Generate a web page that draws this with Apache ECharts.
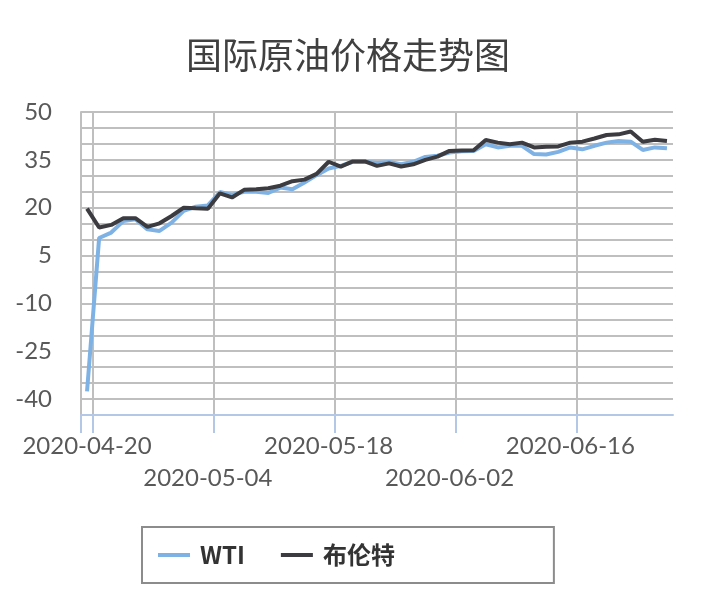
<!DOCTYPE html>
<html>
<head>
<meta charset="UTF-8">
<title>国际原油价格走势图</title>
<script src="https://cdn.jsdelivr.net/npm/echarts@6/dist/echarts.min.js"></script>
<style>
  html, body { margin: 0; padding: 0; background: #fff; }
</style>
</head>
<body>
<div id="main" style="width: 711px; height: 601px;"></div>
<script type="text/javascript">
// 交易日（5月25日休市）
var dates = [
  '2020-04-20', '2020-04-21', '2020-04-22', '2020-04-23', '2020-04-24',
  '2020-04-27', '2020-04-28', '2020-04-29', '2020-04-30', '2020-05-01',
  '2020-05-04', '2020-05-05', '2020-05-06', '2020-05-07', '2020-05-08',
  '2020-05-11', '2020-05-12', '2020-05-13', '2020-05-14', '2020-05-15',
  '2020-05-18', '2020-05-19', '2020-05-20', '2020-05-21', '2020-05-22',
  '2020-05-26', '2020-05-27', '2020-05-28', '2020-05-29',
  '2020-06-01', '2020-06-02', '2020-06-03', '2020-06-04', '2020-06-05',
  '2020-06-08', '2020-06-09', '2020-06-10', '2020-06-11', '2020-06-12',
  '2020-06-15', '2020-06-16', '2020-06-17', '2020-06-18', '2020-06-19',
  '2020-06-22', '2020-06-23', '2020-06-24', '2020-06-25', '2020-06-26'
];

var wti = [
  -37.6, 10.5, 12.2, 15.8, 16.4, 13.2, 12.7, 15.3, 19.0, 20.3,
  20.7, 24.9, 24.0, 25.0, 25.0, 24.6, 26.3, 25.8, 27.9, 30.2,
  32.3, 33.1, 34.4, 34.4, 34.0, 34.3, 33.6, 34.4, 35.9, 36.3,
  37.3, 37.7, 37.8, 39.9, 38.9, 39.4, 39.4, 36.8, 36.7, 37.5,
  38.9, 38.3, 39.4, 40.4, 40.9, 40.7, 38.1, 38.9, 38.6
];

var brent = [
  19.7, 13.8, 14.6, 16.7, 16.7, 14.0, 15.1, 17.4, 20.0, 19.8,
  19.7, 24.5, 23.2, 25.6, 25.8, 26.1, 26.9, 28.3, 28.8, 30.6,
  34.4, 32.9, 34.5, 34.5, 33.1, 33.9, 32.9, 33.6, 35.0, 36.0,
  37.8, 37.9, 38.0, 41.2, 40.4, 39.9, 40.4, 38.9, 39.1, 39.2,
  40.4, 40.7, 41.7, 42.8, 43.0, 43.9, 40.7, 41.3, 40.9
];

// 纵轴：网格每5一格，刻度标签每15一个
var yMin = -45, yMax = 50, yStep = 5, yLabelStep = 15;
// 横轴：每10个交易日一个标签，上下两行交错
var xLabelStep = 10;

// 刻度线画在各交易日之间的分界处（共 dates.length + 1 个分界）
var boundaries = dates.concat(['']);

var labelFont = 'Lato, "Noto Sans CJK SC", sans-serif';
var labelStyle = {
  margin: 15,
  fontFamily: labelFont,
  fontSize: 24,
  lineHeight: 32,
  color: '#595959'
};

function onStepBoundary(i) { return i % xLabelStep === 1; }

var myChart = echarts.init(document.getElementById('main'));
myChart.setOption({
  backgroundColor: '#fff',
  animation: false,
  title: {
    text: '国际原油价格走势图',
    left: 181,
    top: 32,
    textStyle: {
      fontFamily: '"Noto Sans CJK SC", sans-serif',
      fontSize: 36,
      fontWeight: 'normal',
      color: '#404040'
    }
  },
  legend: {
    data: ['WTI', '布伦特'],
    left: 142,
    top: 527,
    orient: 'horizontal',
    icon: 'rect',
    itemWidth: 32,
    itemHeight: 4,
    itemGap: 36,
    padding: [14, 159, 14, 16],
    borderColor: '#8c8c8c',
    borderWidth: 2,
    textStyle: {
      fontFamily: '"Noto Sans CJK SC", sans-serif',
      fontSize: 24,
      fontWeight: 'bold',
      color: '#333',
      lineHeight: 28,
      padding: [0, 0, 0, 5]
    }
  },
  grid: {
    left: 81,
    right: 38,
    top: 112,
    bottom: 186,
    containLabel: false
  },
  xAxis: [{
    // 主横轴：数据、竖网格线、上排标签
    type: 'category',
    data: dates,
    boundaryGap: true,
    axisLine: {
      show: true,
      onZero: false,
      lineStyle: { color: '#b4c7e7', width: 2 }
    },
    axisTick: { show: false },
    splitLine: {
      show: true,
      showMaxLine: false,
      interval: onStepBoundary,
      lineStyle: { color: '#bfbfbf', width: 2 }
    },
    axisLabel: Object.assign({
      interval: function (i) { return i % (2 * xLabelStep) === 0; }
    }, labelStyle)
  }, {
    // 下排标签
    type: 'category',
    data: dates,
    boundaryGap: true,
    position: 'bottom',
    offset: 32,
    axisLine: { show: false, onZero: false },
    axisTick: { show: false },
    splitLine: { show: false },
    axisLabel: Object.assign({
      interval: function (i) { return i % (2 * xLabelStep) === xLabelStep; }
    }, labelStyle)
  }, {
    // 刻度线
    type: 'category',
    data: boundaries,
    boundaryGap: false,
    position: 'bottom',
    axisLine: { show: false, onZero: false },
    axisLabel: { show: false },
    splitLine: { show: false },
    axisTick: {
      show: true,
      length: 18,
      interval: function (i) { return i === 0 || onStepBoundary(i); },
      lineStyle: { color: '#b4c7e7', width: 2 }
    }
  }],
  yAxis: {
    type: 'value',
    min: yMin,
    max: yMax,
    interval: yStep,
    axisLine: {
      show: true,
      lineStyle: { color: '#bfbfbf', width: 2 }
    },
    axisTick: { show: false },
    splitLine: {
      show: true,
      lineStyle: { color: '#bfbfbf', width: 2 }
    },
    axisLabel: {
      margin: 29,
      fontFamily: labelFont,
      fontSize: 24,
      color: '#595959',
      formatter: function (v) {
        return ((yMax - v) % yLabelStep === 0) ? String(v) : '';
      }
    }
  },
  series: [{
    name: 'WTI',
    type: 'line',
    xAxisIndex: 0,
    data: wti,
    symbol: 'none',
    lineStyle: { color: '#7eb2e4', width: 4 },
    itemStyle: { color: '#7eb2e4' },
    z: 2
  }, {
    name: '布伦特',
    type: 'line',
    xAxisIndex: 0,
    data: brent,
    symbol: 'none',
    lineStyle: { color: '#3b3b40', width: 4 },
    itemStyle: { color: '#3b3b40' },
    z: 3
  }]
});
</script>
</body>
</html>
